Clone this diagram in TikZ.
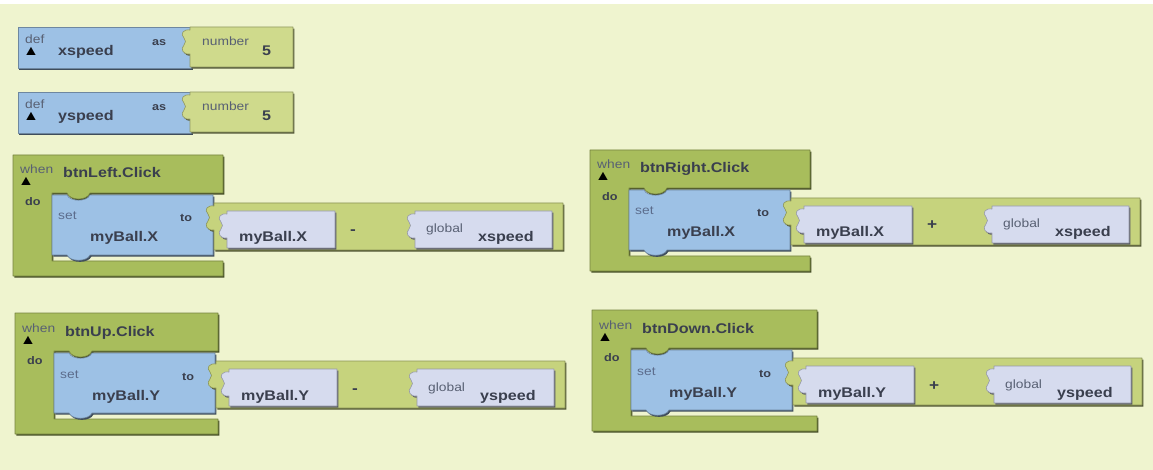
\documentclass[tikz,border=0pt]{standalone}
\usepackage{fontspec}
\setmainfont{Liberation Sans}[FakeStretch=1.15]

\definecolor{bgcream}{RGB}{239,244,207}
\definecolor{evgreen}{RGB}{168,189,92}
\definecolor{opgreen}{RGB}{198,211,125}
\definecolor{numgreen}{RGB}{207,218,140}
\definecolor{setblue}{RGB}{157,193,229}
\definecolor{getlav}{RGB}{214,219,238}
\definecolor{lbltext}{RGB}{58,63,78}
\definecolor{captext}{RGB}{88,96,115}
\definecolor{setcap}{RGB}{92,108,140}

% socket tab on the left edge of a value block (top at #2)
\newcommand\plugtab[2]{-- (#1,#2+27) .. controls (#1-7,#2+28) and (#1-10,#2+22) .. (#1-6,#2+18) .. controls (#1-4,#2+16) and (#1-4,#2+13) .. (#1-6,#2+11) .. controls (#1-10,#2+7) and (#1-7,#2+2) .. (#1,#2+3)}

% global definition: id, top, variable
\newcommand\defblock[3]{%
  \path[blk=setblue] (18,#2) rectangle (192,#2+41);
  \path[blk=numgreen] (190,#2+40) \plugtab{190}{#2} -- (190,#2) -- (293,#2) -- (293,#2+40) -- cycle;
  \node[captxt] (#1-def) at (25,#2+17) {def};
  \node[tritxt] (#1-tri) at (23,#2+29) {▲};
  \node[bigtxt] (#1-var) at (58,#2+29) {#3};
  \node[kwtxt] (#1-as) at (152,#2+19) {as};
  \node[captxt] (#1-num) at (202,#2+19) {number};
  \node[bigtxt] (#1-val) at (262,#2+29) {5};
}

% click handler: id, x, y, header width, event, property, sign, variable
\newcommand\eventblock[8]{%
  \pgfmathsetmacro\ox{#2+201}
  \pgfmathsetmacro\oy{#3+48}
  % when/do frame
  \path[blk=evgreen] (#2,#3) -- (#2+#4,#3) -- (#2+#4,#3+38) -- (#2+77,#3+38)
    .. controls (#2+74,#3+46) and (#2+57,#3+46) .. (#2+54,#3+38) -- (#2+39,#3+38)
    -- (#2+39,#3+106) -- (#2+#4,#3+106) -- (#2+#4,#3+121) -- (#2,#3+121) -- cycle;
  % set block
  \path[blk=setblue] (#2+39,#3+40) -- (#2+54,#3+40)
    .. controls (#2+57,#3+47) and (#2+74,#3+47) .. (#2+77,#3+40) -- (#2+200,#3+40)
    -- (#2+200,#3+100) -- (#2+77,#3+100)
    .. controls (#2+74,#3+107) and (#2+57,#3+107) .. (#2+54,#3+100) -- (#2+39,#3+100) -- cycle;
  % arithmetic block and its two getters
  \path[blk=opgreen] (\ox,\oy+47) \plugtab{\ox}{\oy} -- (\ox,\oy) -- (\ox+349,\oy) -- (\ox+349,\oy+47) -- cycle;
  \path[blk=getlav] (\ox+13,\oy+45) \plugtab{\ox+13}{\oy+8} -- (\ox+13,\oy+8) -- (\ox+121,\oy+8) -- (\ox+121,\oy+45) -- cycle;
  \path[blk=getlav] (\ox+201,\oy+45) \plugtab{\ox+201}{\oy+8} -- (\ox+201,\oy+8) -- (\ox+338,\oy+8) -- (\ox+338,\oy+45) -- cycle;
  % labels
  \node[captxt] (#1-when) at (#2+7,#3+19) {when};
  \node[tritxt] (#1-tri) at (#2+5,#3+31) {▲};
  \node[bigtxt] (#1-evt) at (#2+50,#3+23) {#5};
  \node[kwtxt] (#1-do) at (#2+12,#3+51) {do};
  \node[captxt, text=setcap] (#1-set) at (#2+45,#3+65) {set};
  \node[bigtxt] (#1-prop) at (#2+77,#3+87) {#6};
  \node[kwtxt] (#1-to) at (#2+167,#3+67) {to};
  \node[bigtxt] (#1-get) at (\ox+25,\oy+39) {#6};
  \node[signtxt] (#1-sign) at (\ox+136,\oy+32) {#7};
  \node[captxt] (#1-glob) at (\ox+212,\oy+30) {global};
  \node[bigtxt] (#1-var) at (\ox+264,\oy+39) {#8};
}

\begin{document}
\begin{tikzpicture}[
  x=1pt, y=-1pt,
  blk/.style={fill=#1, draw=#1!70!black, line width=0.6pt, line join=round,
    preaction={fill=#1!40!black, transform canvas={shift={(1.4pt,-1.6pt)}}}},
  bigtxt/.style={font=\fontsize{14}{16}\selectfont\bfseries, text=lbltext, inner sep=0pt, anchor=base west},
  captxt/.style={font=\fontsize{12}{14}\selectfont, text=captext, inner sep=0pt, anchor=base west},
  kwtxt/.style={font=\fontsize{11}{13}\selectfont\bfseries, text=lbltext, inner sep=0pt, anchor=base west},
  signtxt/.style={font=\fontsize{15}{16}\selectfont\bfseries, text=lbltext, inner sep=0pt, anchor=base west},
  tritxt/.style={font=\fontsize{14}{15}\selectfont, text=black, inner sep=0pt, anchor=base west}
]
\useasboundingbox (0,0) rectangle (1153,470);
\fill[white] (0,0) rectangle (1153,470);
\fill[bgcream] (0,4) rectangle (1153,470);

\defblock{xs}{27}{xspeed}
\defblock{ys}{92}{yspeed}

\eventblock{left}{13}{155}{210}{btnLeft.Click}{myBall.X}{-}{xspeed}
\eventblock{right}{590}{150}{220}{btnRight.Click}{myBall.X}{+}{xspeed}
\eventblock{up}{15}{313}{203}{btnUp.Click}{myBall.Y}{-}{yspeed}
\eventblock{down}{592}{310}{225}{btnDown.Click}{myBall.Y}{+}{yspeed}
\end{tikzpicture}
\end{document}
